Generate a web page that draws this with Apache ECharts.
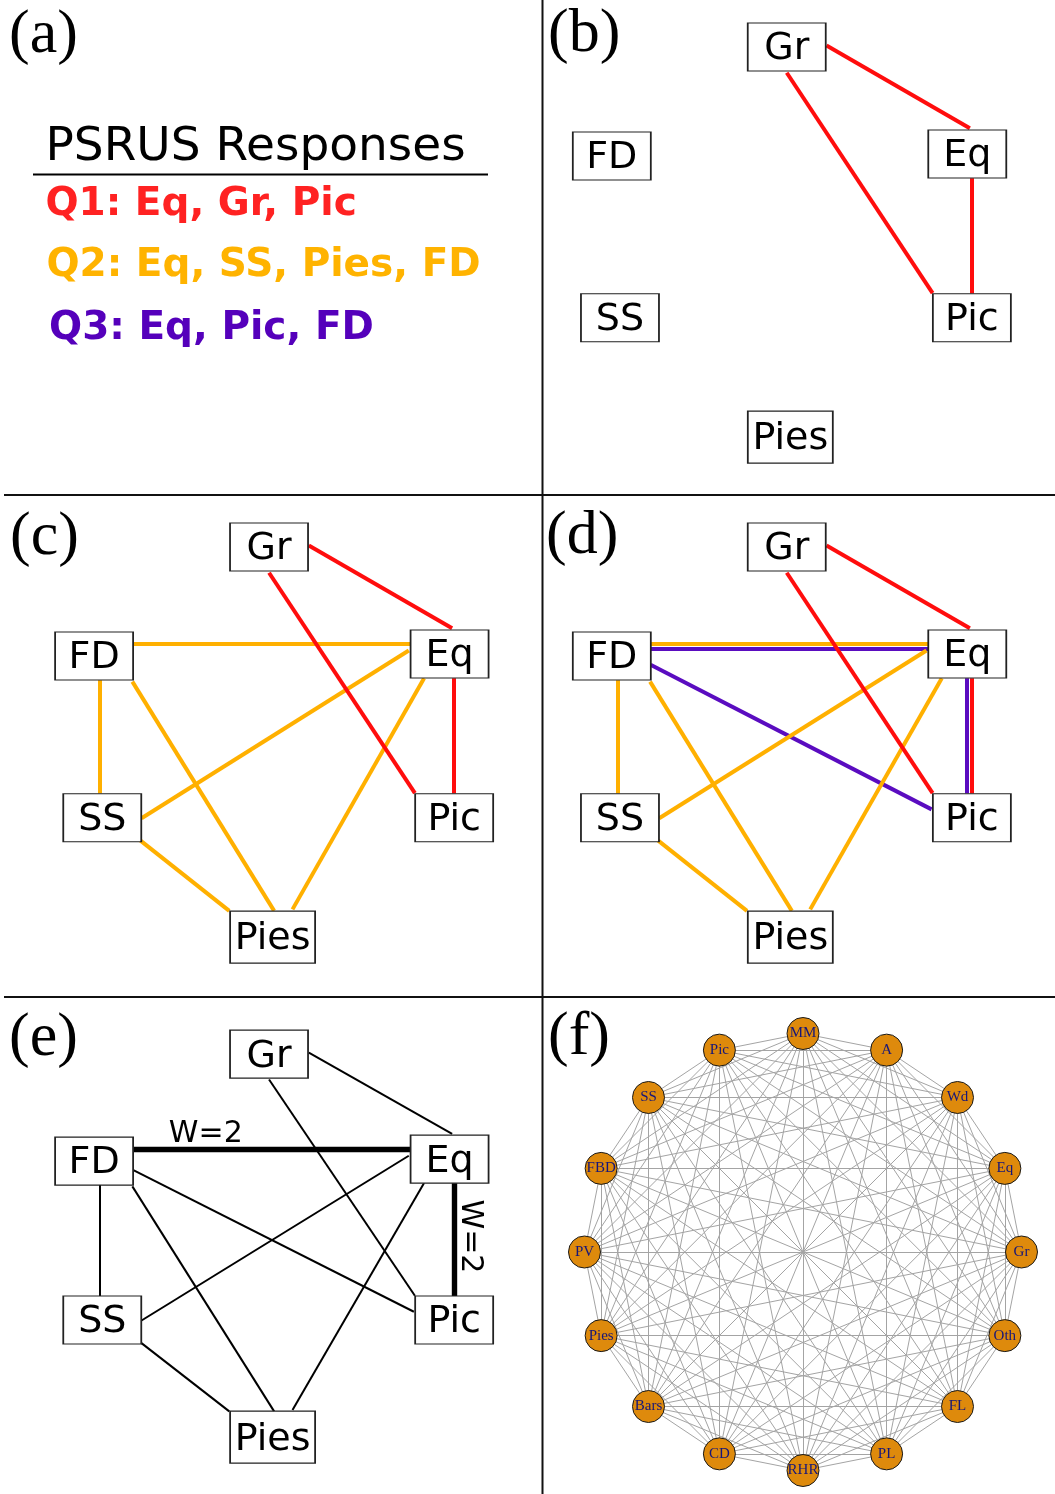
<!DOCTYPE html>
<html>
<head>
<meta charset="utf-8">
<script src="https://cdn.jsdelivr.net/npm/echarts@6/dist/echarts.min.js"></script>
<style>html,body{margin:0;padding:0;background:#fff}#c{width:1055px;height:1494px}</style>
</head>
<body>
<div id="c"></div>
<script>
// ================= DATA =================
const legendTitle = 'PSRUS Responses';
const questions = ['Q1', 'Q2', 'Q3'];
const responses = [
  ['Eq', 'Gr', 'Pic'],
  ['Eq', 'SS', 'Pies', 'FD'],
  ['Eq', 'Pic', 'FD']
];
// network layout (layout units) for panels b-e
const boxNodes = ['Gr', 'FD', 'Eq', 'SS', 'Pic', 'Pies'];
const boxNodeX = [4.74, 1.31, 8.28, 1.47, 8.37, 4.81];
const boxNodeY = [9.05, 6.85, 6.89, 3.58, 3.58, 1.17];
// edge routes (layout units): one lane per repeated occurrence of a pair
const edgePairs = ['Gr-Eq', 'Gr-Pic', 'FD-Eq', 'FD-Pic', 'Eq-Pic', 'FD-SS', 'FD-Pies', 'Eq-SS', 'Eq-Pies', 'SS-Pies'];
const edgeLanes = [
  [[5.52, 9.08, 8.33, 7.41]],
  [[4.74, 8.53, 7.60, 4.08]],
  [[2.07, 7.09, 7.51, 7.09], [2.07, 7.00, 7.51, 7.00]],
  [[2.07, 6.67, 7.58, 3.75]],
  [[8.37, 6.40, 8.37, 4.07], [8.27, 6.40, 8.27, 4.07]],
  [[1.42, 6.36, 1.42, 4.07]],
  [[2.06, 6.33, 4.84, 1.70]],
  [[7.48, 6.96, 2.24, 3.57]],
  [[7.78, 6.40, 5.20, 1.73]],
  [[2.22, 3.12, 3.96, 1.70]]
];
// anchors of weight labels (layout units)
const weightLabelPairs = ['FD-Eq', 'Eq-Pic'];
const weightLabelX = [3.50, 8.68];
const weightLabelY = [7.41, 5.30];
// panel (f): full co-occurrence network, nodes in circle order
const circleNodes = ['MM', 'A', 'Wd', 'Eq', 'Gr', 'Oth', 'FL', 'PL', 'RHR', 'CD', 'Bars', 'Pies', 'PV', 'FBD', 'SS', 'Pic'];
const panelLabels = ['(a)', '(b)', '(c)', '(d)', '(e)', '(f)'];

// ================= STYLE / BUILD =================
const qColors = ['#ff0d0d', '#ffb000', '#5a0cc0'];
const qTextColors = ['#ff2222', '#ffb300', '#5500bb'];

function edgeIndex(a, b) {
  let k = edgePairs.indexOf(a + '-' + b);
  if (k < 0) k = edgePairs.indexOf(b + '-' + a);
  return k;
}
function coordsOf(c) { return [[c[0], c[1]], [c[2], c[3]]]; }

function questionEdges(qList) {
  const used = {};
  const out = [];
  qList.forEach(q => {
    const r = responses[q];
    for (let i = 0; i < r.length; i++) {
      for (let j = i + 1; j < r.length; j++) {
        const k = edgeIndex(r[i], r[j]);
        const lane = used[k] || 0;
        used[k] = lane + 1;
        out.push({ coords: coordsOf(edgeLanes[k][lane]), lineStyle: { color: qColors[q], width: 4, opacity: 1 } });
      }
    }
  });
  return out.reverse();
}
function weights() {
  const w = {};
  responses.forEach(r => {
    for (let i = 0; i < r.length; i++) for (let j = i + 1; j < r.length; j++) {
      const k = edgeIndex(r[i], r[j]);
      w[k] = (w[k] || 0) + 1;
    }
  });
  return w;
}

const grids = [
  { left: 545, top: 0, width: 510, height: 495 },    // b
  { left: 27.3, top: 500, width: 510, height: 495 }, // c
  { left: 545, top: 500, width: 510, height: 495 },  // d
  { left: 27.3, top: 1008, width: 510, height: 495 } // e
];
const hiddenAxis = { type: 'value', min: 0, max: 10, show: false };

function linesSeries(gi, data) {
  return { type: 'lines', coordinateSystem: 'cartesian2d', xAxisIndex: gi, yAxisIndex: gi, z: 3,
    polyline: false, silent: true, animation: false,
    lineStyle: { opacity: 1, cap: 'butt' }, data: data };
}
function boxSeries(gi) {
  return { type: 'scatter', xAxisIndex: gi, yAxisIndex: gi, z: 5, symbol: 'rect', silent: true, animation: false,
    data: boxNodes.map((n, i) => ({ name: n, value: [boxNodeX[i], boxNodeY[i]], symbolSize: n === 'Pies' ? [85, 52] : [78, 48] })),
    itemStyle: { color: '#ffffff', borderColor: '#222222', borderWidth: 1.4, opacity: 1 },
    label: { show: true, position: 'inside', formatter: '{b}', fontFamily: 'DejaVu Sans', fontSize: 38, color: '#000', opacity: 1, offset: [0, 2.5] }
  };
}

const series = [];
// b
series.push(linesSeries(0, questionEdges([0])));
series.push(boxSeries(0));
// c
series.push(linesSeries(1, questionEdges([0, 1])));
series.push(boxSeries(1));
// d
series.push(linesSeries(2, questionEdges([0, 1, 2])));
series.push(boxSeries(2));
// e
const w = weights();
const eEdges = Object.keys(w).map(k => ({
  coords: coordsOf(edgeLanes[k][0]),
  lineStyle: { color: '#000', width: 2 + (w[k] - 1) * 3.4, opacity: 1 }
}));
series.push(linesSeries(3, eEdges));
series.push(boxSeries(3));
series.push({ type: 'scatter', xAxisIndex: 3, yAxisIndex: 3, z: 6, symbolSize: 0, silent: true, animation: false,
  itemStyle: { opacity: 1 },
  data: weightLabelPairs.map((p, i) => {
    const k = edgePairs.indexOf(p);
    const lane = edgeLanes[k][0];
    return { value: [weightLabelX[i], weightLabelY[i]], name: 'W=' + w[k],
      label: { rotate: lane[0] === lane[2] ? -90 : 0 } };
  }),
  label: { show: true, position: 'inside', formatter: '{b}', fontFamily: 'DejaVu Sans', fontSize: 30, color: '#000' }
});
// f
const fLinks = [];
for (let i = 0; i < circleNodes.length; i++)
  for (let j = i + 1; j < circleNodes.length; j++)
    fLinks.push({ source: circleNodes[i], target: circleNodes[j] });
series.push({ type: 'graph', coordinateSystem: 'polar', polarIndex: 0, layout: 'none', silent: true, animation: false,
  symbol: 'circle', symbolSize: 32, z: 4,
  data: circleNodes.map((n, i) => ({ name: n, value: [1, i] })),
  links: fLinks,
  itemStyle: { color: '#de8a0c', borderColor: '#1a1a1a', borderWidth: 1, opacity: 1 },
  lineStyle: { color: '#a4a4a4', width: 1, opacity: 1, curveness: 0 },
  label: { show: true, position: 'inside', fontFamily: 'Liberation Serif', fontSize: 15, color: '#16167a' },
  emphasis: { disabled: true }
});

// titles
const labelPos = [[9, 5], [548, 4], [10, 506.6], [546, 506], [9, 1008], [548, 1007]];
const titles = panelLabels.map((t, i) => ({
  text: t, left: labelPos[i][0], top: labelPos[i][1], padding: 0,
  textStyle: { fontFamily: 'Liberation Serif', fontWeight: 'normal', fontSize: 62, lineHeight: 62, color: '#000' }
}));
titles.push({ text: legendTitle, left: 45.5, top: 124.5, padding: 0,
  textStyle: { fontFamily: 'DejaVu Sans', fontWeight: 'normal', fontSize: 47, lineHeight: 47, color: '#000' } });
const qLeft = [45.4, 46.4, 49];
const qTop = [184.9, 246.4, 308.9];
questions.forEach((q, i) => titles.push({
  text: q + ': ' + responses[i].join(', '), left: qLeft[i], top: qTop[i], padding: 0,
  textStyle: { fontFamily: 'DejaVu Sans', fontWeight: 'bold', fontSize: 39, lineHeight: 39, color: qTextColors[i] }
}));

const option = {
  backgroundColor: '#ffffff',
  animation: false,
  title: titles,
  grid: grids,
  xAxis: grids.map((g, i) => Object.assign({ gridIndex: i }, hiddenAxis)),
  yAxis: grids.map((g, i) => Object.assign({ gridIndex: i }, hiddenAxis)),
  polar: { center: [803, 1252], radius: [0, 218.5] },
  angleAxis: { type: 'category', data: circleNodes, boundaryGap: false, startAngle: 90, clockwise: true,
    axisLine: { show: false }, axisTick: { show: false }, axisLabel: { show: false }, splitLine: { show: false } },
  radiusAxis: { type: 'value', min: 0, max: 1,
    axisLine: { show: false }, axisTick: { show: false }, axisLabel: { show: false }, splitLine: { show: false } },
  graphic: [
    { type: 'line', silent: true, z: 1, shape: { x1: 542.5, y1: 0, x2: 542.5, y2: 1494 }, style: { stroke: '#111', lineWidth: 2 } },
    { type: 'line', silent: true, z: 1, shape: { x1: 4, y1: 495, x2: 1055, y2: 495 }, style: { stroke: '#111', lineWidth: 2 } },
    { type: 'line', silent: true, z: 1, shape: { x1: 4, y1: 997, x2: 1055, y2: 997 }, style: { stroke: '#111', lineWidth: 2 } },
    { type: 'line', silent: true, z: 1, shape: { x1: 33, y1: 174.6, x2: 488, y2: 174.6 }, style: { stroke: '#000', lineWidth: 2 } }
  ],
  series: series
};
const chart = echarts.init(document.getElementById('c'), null, { renderer: 'canvas', width: 1055, height: 1494 });
chart.setOption(option);
</script>
</body>
</html>
